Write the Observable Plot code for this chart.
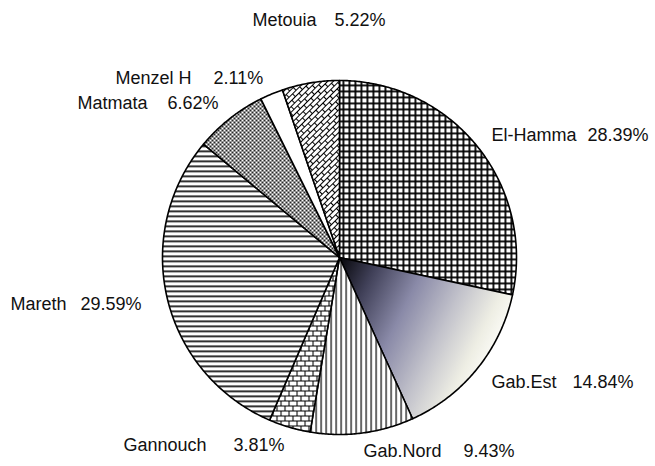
<!DOCTYPE html>
<html>
<head>
<meta charset="utf-8">
<script src="https://cdn.jsdelivr.net/npm/d3@7"></script>
<script src="https://cdn.jsdelivr.net/npm/@observablehq/plot@0.6"></script>
<style>
  html, body { margin: 0; padding: 0; background: #fff; }
  #chart svg { display: block; }
</style>
</head>
<body>
<div id="chart"></div>
<script>
// ---- data ----
const names  = ["El-Hamma", "Gab.Est", "Gab.Nord", "Gannouch", "Mareth", "Matmata", "Menzel H", "Metouia"];
const shares = [28.39, 14.84, 9.43, 3.81, 29.59, 6.62, 2.11, 5.22];

// ---- styles (fills per slice) ----
const fills = ["url(#pGrid)", "url(#gEst)", "url(#pVert)", "url(#pBrick)", "url(#pHoriz)", "url(#pFine)", "#ffffff", "url(#pDiagBrick)"];

// ---- layout ----
const W = 655, H = 466;
const cx = 339, cy = 257, R = 177;
const nameX  = [491, 491, 363, 123, 10, 77, 115, 252];
const valueX = [587, 572, 463, 233, 80, 167, 213, 334];
const labelY = [134.5, 381.5, 450.5, 444.5, 303.5, 102.5, 77.5, 20];

const fmt = d3.format(".2f");
const arcs = d3.pie().sort(null).value(d => d).startAngle(0).endAngle(2 * Math.PI)(shares);

const rows = [];
arcs.forEach((a, i) => {
  const n = Math.max(2, Math.ceil((a.endAngle - a.startAngle) / (Math.PI / 360)));
  rows.push({name: names[i], fill: fills[i], px: cx, py: cy});
  for (let k = 0; k <= n; ++k) {
    const t = a.startAngle + (a.endAngle - a.startAngle) * k / n;
    rows.push({name: names[i], fill: fills[i], px: cx + R * Math.sin(t), py: cy - R * Math.cos(t)});
  }
  rows.push({name: names[i], fill: fills[i], px: cx, py: cy});
});

const labels = names.map((n, i) => ({name: n, value: fmt(shares[i]) + "%", nx: nameX[i], vx: valueX[i], y: labelY[i]}));

const font = "'Liberation Sans', Arial, sans-serif";

const svg = Plot.plot({
  width: W, height: H, margin: 0,
  x: {domain: [0, W], range: [0, W], axis: null},
  y: {domain: [0, H], range: [0, H], axis: null},
  color: {type: "identity"},
  style: {background: "#fff", fontFamily: font},
  marks: [
    Plot.line(rows, {x: "px", y: "py", z: "name", fill: "fill", stroke: "#000", strokeWidth: 1.6, strokeLinejoin: "round", curve: "linear"}),
    Plot.text(labels, {x: "nx", y: "y", text: "name", textAnchor: "start", fontSize: 18, fill: "#111", fontFamily: font}),
    Plot.text(labels, {x: "vx", y: "y", text: "value", textAnchor: "start", fontSize: 18, fill: "#111", fontFamily: font})
  ]
});

// pattern definitions
const defs = d3.select(svg).insert("defs", ":first-child");
function pattern(id, w, h, draw, transform) {
  const p = defs.append("pattern").attr("id", id).attr("patternUnits", "userSpaceOnUse")
    .attr("width", w).attr("height", h);
  if (transform) p.attr("patternTransform", transform);
  p.append("rect").attr("width", w).attr("height", h).attr("fill", "#fff");
  draw(p);
}
pattern("pGrid", 6, 6, p => {
  p.append("rect").attr("x", 0).attr("y", 0).attr("width", 6).attr("height", 1.8).attr("fill", "#000");
  p.append("rect").attr("x", 0).attr("y", 0).attr("width", 1.8).attr("height", 6).attr("fill", "#000");
});
pattern("pVert", 5, 5, p => {
  p.append("rect").attr("x", 0).attr("y", 0).attr("width", 1.2).attr("height", 5).attr("fill", "#000");
});
pattern("pHoriz", 5, 5, p => {
  p.append("rect").attr("x", 0).attr("y", 0).attr("width", 5).attr("height", 1.6).attr("fill", "#000");
});
pattern("pBrick", 8, 10, p => {
  p.append("path").attr("d", "M0 0.5H8M0 5.5H8M0.5 0V5.5M4.5 5.5V10").attr("stroke", "#000").attr("stroke-width", 1.1).attr("fill", "none");
});
pattern("pFine", 4, 4, p => {
  p.append("path").attr("d", "M0 0L4 4M4 0L0 4M-1 3L1 5M3 -1L5 1M-1 1L1 -1M3 5L5 3").attr("stroke", "#000").attr("stroke-width", 0.85).attr("fill", "none");
});
pattern("pDiagBrick", 10, 8, p => {
  p.append("path").attr("d", "M0 0.5H10M0 4.5H10M0.5 0.5V4.5M5.5 4.5V8").attr("stroke", "#000").attr("stroke-width", 1.1).attr("fill", "none");
}, "rotate(-45)");
const g = defs.append("linearGradient").attr("id", "gEst").attr("gradientUnits", "userSpaceOnUse")
  .attr("x1", cx).attr("y1", cy).attr("x2", cx + 160).attr("y2", cy + 80);
[[0, "#050508"], [0.2, "#404058"], [0.45, "#8a8aa8"], [0.7, "#c4c4cc"], [0.9, "#eeeee4"], [1, "#fafaf5"]]
  .forEach(([o, c]) => g.append("stop").attr("offset", o).attr("stop-color", c));

document.getElementById("chart").appendChild(svg);
</script>
</body>
</html>
